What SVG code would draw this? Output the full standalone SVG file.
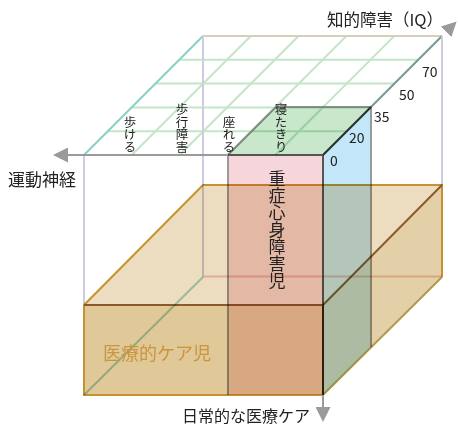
<svg xmlns="http://www.w3.org/2000/svg" width="458" height="427" viewBox="0 0 458 427">
<defs>
<marker id="arr" markerUnits="userSpaceOnUse" markerWidth="15" markerHeight="15" viewBox="0 0 15 15" refX="0" refY="7.5" orient="auto">
<path d="M0,0 L15,7.5 L0,15 z" fill="#9a9a9a"/>
</marker>
<style>
text{font-family:"Noto Sans CJK JP","Noto Sans",sans-serif;fill:#222}
.grid{stroke:#c3e6cb;stroke-width:2;fill:none}
.lav{stroke:#cdcde2;stroke-width:2}
.gray{stroke:#9a9a9a;stroke-width:2;fill:none}
.dark{stroke:#555;stroke-width:2;fill:none}
.gold{stroke:#c8912f;stroke-width:2;fill:none}
.brown{stroke:#8a5a2a;stroke-width:2;fill:none}
.axis{stroke:#9a9a9a;stroke-width:2;fill:none;marker-end:url(#arr)}
.mul{mix-blend-mode:multiply}
.vt{writing-mode:vertical-rl;font-size:12.5px}
.tick{font-size:14px}
</style>
</defs>
<rect width="458" height="427" fill="#fff"/>

<g id="grid-plane">
<line class="grid" x1="131.8" y1="155" x2="250.8" y2="36"/>
<line class="grid" x1="179.6" y1="155" x2="298.6" y2="36"/>
<line class="grid" x1="227.4" y1="155" x2="346.4" y2="36"/>
<line class="grid" x1="275.2" y1="155" x2="394.2" y2="36"/>
<line class="grid" x1="107.8" y1="131.2" x2="346.8" y2="131.2"/>
<line class="grid" x1="131.6" y1="107.4" x2="370.6" y2="107.4"/>
<line class="grid" x1="155.4" y1="83.6" x2="394.4" y2="83.6"/>
<line class="grid" x1="179.2" y1="59.8" x2="418.2" y2="59.8"/>
<line x1="84" y1="155" x2="203" y2="36" stroke="#86d2c2" stroke-width="2"/>
<line x1="203" y1="36" x2="442" y2="36" stroke="#d8cfb6" stroke-width="2"/>
<line x1="323" y1="155" x2="442" y2="36" stroke="#739a92" stroke-width="2"/>
</g>

<g id="frame">
<line class="lav" x1="84" y1="155" x2="84" y2="305"/>
<line class="lav" x1="203" y1="36" x2="203" y2="277"/>
<line class="lav" x1="442" y1="36" x2="442" y2="185"/>
<line x1="84" y1="395" x2="203" y2="277" stroke="#a9d9cd" stroke-width="2"/>
<line x1="203" y1="276.5" x2="442" y2="276.5" stroke="#e8a098" stroke-opacity="0.55" stroke-width="2"/>
</g>

<g id="severe-box" class="mul">
<rect x="228" y="155" width="95" height="240" fill="#f6d6da"/>
<polygon points="323,155 371,107 371,347 323,395" fill="#c3e6f8"/>
<polygon points="228,155 323,155 371,107 276,107" fill="#c8e7cb"/>
<line class="gray" x1="228" y1="155" x2="228" y2="395"/>
<line class="gray" x1="371" y1="107" x2="371" y2="347"/>
<polyline class="gray" points="228,155 276,107 371,107"/>
<line class="dark" x1="323" y1="155" x2="323" y2="395"/>
<line class="dark" x1="323" y1="155" x2="371" y2="107"/>
<line class="dark" x1="228" y1="155" x2="323" y2="155"/>
</g>

<g id="medical-care-box" class="mul">
<polygon points="84,305 323,305 442,185 203,185" fill="#ecdcc0"/>
<polygon points="323,305 442,185 442,277 323,395" fill="#e4d0a8"/>
<rect x="84" y="305" width="239" height="90" fill="#e0c898"/>
<polyline class="gold" points="84,305 203,185 442,185 442,277"/>
<line x1="442" y1="277" x2="323" y2="395" stroke="#b39a4a" stroke-width="2"/>
<polyline class="gold" points="84,305 84,395 323,395"/>
<line class="brown" x1="84" y1="305" x2="323" y2="305"/>
<line class="brown" x1="323" y1="305" x2="442" y2="185"/>
<line class="brown" x1="323" y1="305" x2="323" y2="395"/>
</g>

<g id="axes">
<line class="axis" x1="228" y1="155" x2="68" y2="155"/>
<line class="axis" x1="323" y1="395" x2="323" y2="407"/>
<line x1="371" y1="107" x2="446" y2="32" stroke="none" marker-end="url(#arr)"/>
</g>

<g id="labels">
<text x="8" y="186" font-size="17">運動神経</text>
<text x="327" y="26" font-size="16.5">知的障害（IQ）</text>
<text x="182" y="422" font-size="16">日常的な医療ケア</text>
<text class="tick" x="330" y="166">0</text>
<text class="tick" x="349" y="143">20</text>
<text class="tick" x="374" y="122">35</text>
<text class="tick" x="399" y="100">50</text>
<text class="tick" x="422" y="77">70</text>
<text class="vt" x="130" y="153" text-anchor="end">歩ける</text>
<text class="vt" x="182" y="153" text-anchor="end">歩行障害</text>
<text class="vt" x="229" y="153" text-anchor="end">座れる</text>
<text class="vt" x="281" y="153" text-anchor="end">寝たきり</text>
<text x="277" y="170" style="writing-mode:vertical-rl" font-size="17">重症心身障害児</text>
<text x="103" y="360" font-size="18" style="fill:#c9963e">医療的ケア児</text>
</g>
</svg>
